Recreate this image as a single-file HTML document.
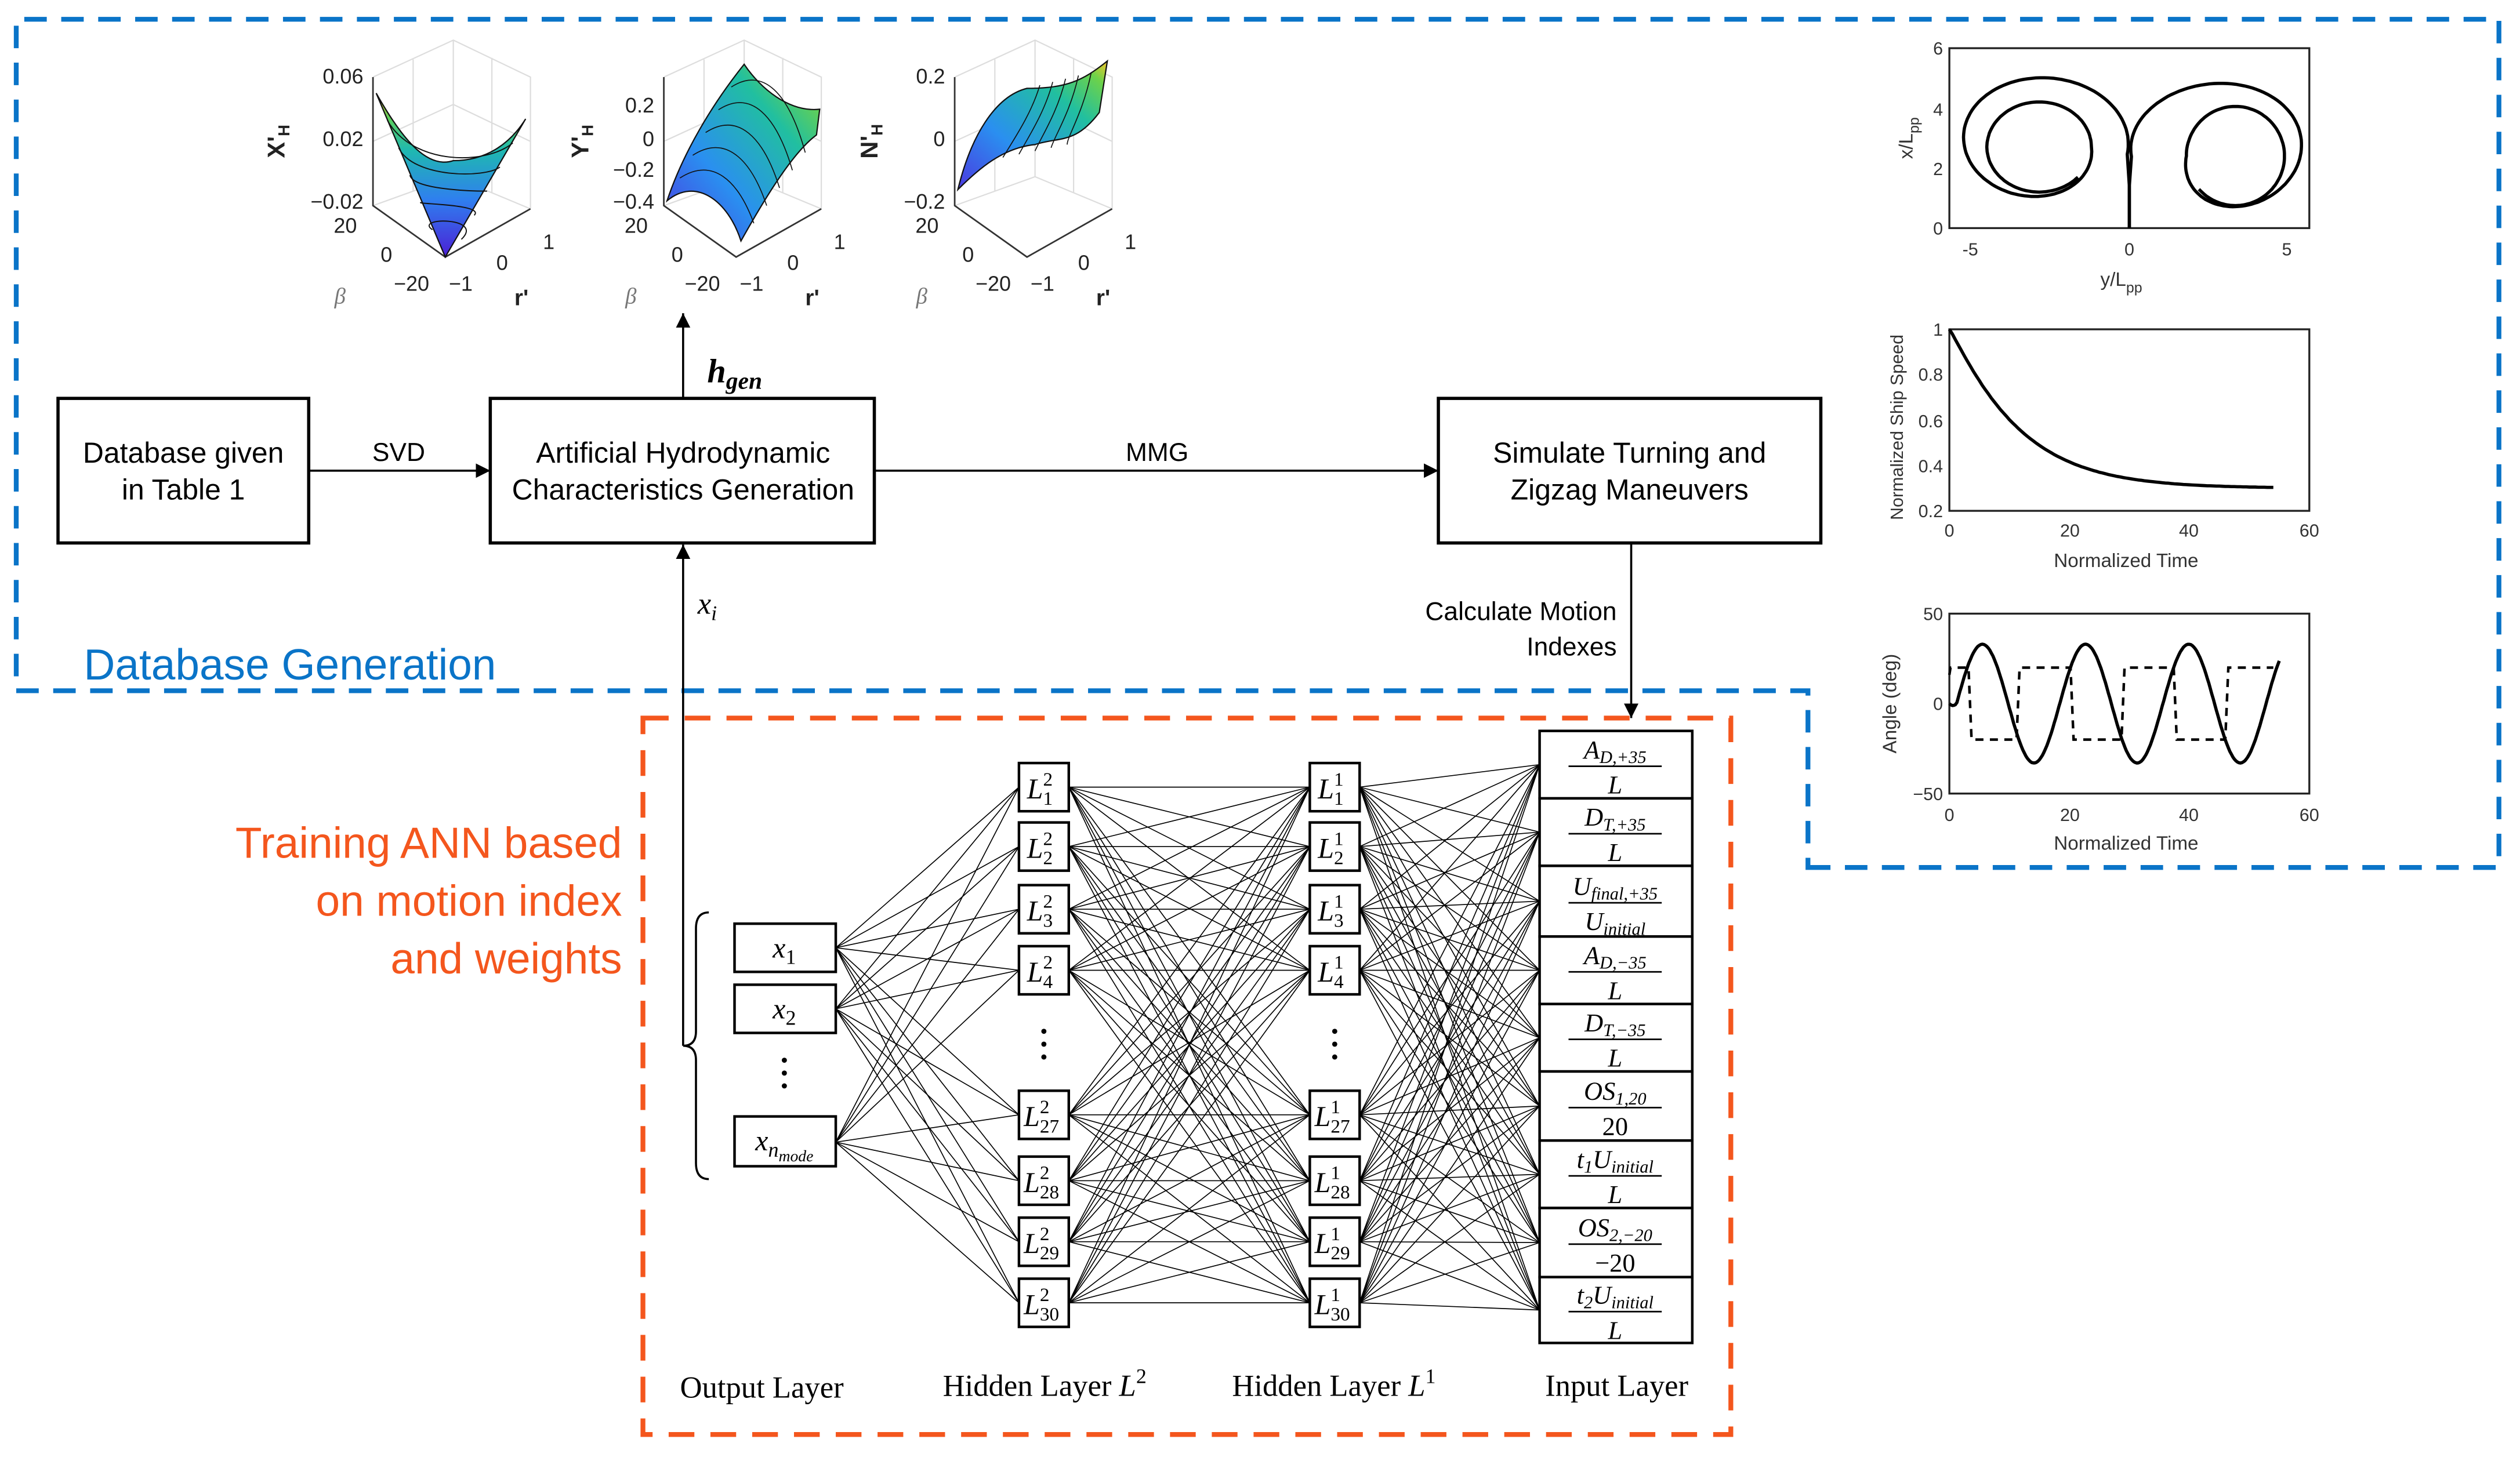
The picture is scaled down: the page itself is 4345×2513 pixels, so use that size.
<!DOCTYPE html>
<html><head><meta charset="utf-8">
<style>
html,body{margin:0;padding:0;background:#fff;}
svg{display:block;}
.c{font-family:"Liberation Sans Narrow","Liberation Sans",sans-serif;}
.s{font-family:"Liberation Serif",serif;}
.a{font-family:"Liberation Sans",sans-serif;}
</style></head>
<body>
<svg id="sv" xmlns="http://www.w3.org/2000/svg" width="4345" height="2513" viewBox="0 0 1568 907">
<defs>
<marker id="ar" viewBox="0 0 10 10" refX="10" refY="5" markerWidth="9" markerHeight="9" markerUnits="userSpaceOnUse" orient="auto"><path d="M0,0L10,5L0,10z" fill="#000"/></marker>
<linearGradient id="g1" x1="0" y1="1" x2="0" y2="0"><stop offset="0" stop-color="#4b1fd6"/><stop offset="0.35" stop-color="#2f7fef"/><stop offset="0.65" stop-color="#1fb8b0"/><stop offset="0.85" stop-color="#5ccf5a"/><stop offset="1" stop-color="#f5c32a"/></linearGradient>
<linearGradient id="g2" x1="0" y1="1" x2="1" y2="0"><stop offset="0" stop-color="#4b3ae0"/><stop offset="0.35" stop-color="#2a8ff0"/><stop offset="0.7" stop-color="#21bfa0"/><stop offset="0.9" stop-color="#6dd24a"/><stop offset="1" stop-color="#f7c52a"/></linearGradient>
</defs>
<path d="M1125,540 L1555,540 L1555,12 L10,12 L10,430 L1125,430 Z" fill="none" stroke="#0a74c8" stroke-width="3" stroke-dasharray="14,9"/>
<text x="52" y="423" class="c" font-size="27" fill="#0a74c8">Database Generation</text>
<rect x="400" y="447" width="677" height="446" fill="none" stroke="#f4561d" stroke-width="3" stroke-dasharray="16,10"/>
<g class="c" font-size="27" fill="#f4561d" text-anchor="end">
<text x="387" y="534">Training ANN based</text>
<text x="387" y="570">on motion index</text>
<text x="387" y="606">and weights</text>
</g>
<g fill="#fff" stroke="#000" stroke-width="2">
<rect x="36" y="248" width="156" height="90"/>
<rect x="305" y="248" width="239" height="90"/>
<rect x="895" y="248" width="238" height="90"/>
</g>
<g class="c" font-size="18" text-anchor="middle">
<text x="114" y="288">Database given</text><text x="114" y="311">in Table 1</text>
<text x="425" y="288">Artificial Hydrodynamic</text><text x="425" y="311">Characteristics Generation</text>
<text x="1014" y="288">Simulate Turning and</text><text x="1014" y="311">Zigzag Maneuvers</text>
<text x="248" y="287" font-size="16">SVD</text>
<text x="720" y="287" font-size="16">MMG</text>
</g>
<g class="c" font-size="16" text-anchor="end"><text x="1006" y="386">Calculate Motion</text><text x="1006" y="408">Indexes</text></g>
<g stroke="#000" stroke-width="1.3" fill="none">
<line x1="192" y1="293" x2="305" y2="293" marker-end="url(#ar)"/>
<line x1="544" y1="293" x2="895" y2="293" marker-end="url(#ar)"/>
<line x1="425" y1="248" x2="425" y2="195" marker-end="url(#ar)"/>
<line x1="425" y1="651" x2="425" y2="339" marker-end="url(#ar)"/>
<line x1="1015" y1="338" x2="1015" y2="447" marker-end="url(#ar)"/>
<path d="M441,568 Q433,568 433,578 L433,642 Q433,651 425,651 Q433,651 433,660 L433,724 Q433,734 441,734"/>
</g>
<text x="440" y="238" class="s" font-size="21" font-weight="bold" font-style="italic">h<tspan font-size="15" dy="4">gen</tspan></text>
<text x="434" y="382" class="s" font-size="19" font-style="italic">x<tspan font-size="13" dy="4">i</tspan></text>

<g id="p3d"></g>

<g class="a" font-size="11" fill="#333">
<rect x="1213" y="30" width="224" height="112" fill="none" stroke="#222" stroke-width="1.2"/>
<rect x="1213" y="205" width="224" height="113" fill="none" stroke="#222" stroke-width="1.2"/>
<rect x="1213" y="382" width="224" height="112" fill="none" stroke="#222" stroke-width="1.2"/>
<g text-anchor="end">
<text x="1209" y="34">6</text><text x="1209" y="72">4</text><text x="1209" y="109">2</text><text x="1209" y="146">0</text>
<text x="1209" y="209">1</text><text x="1209" y="237">0.8</text><text x="1209" y="266">0.6</text><text x="1209" y="294">0.4</text><text x="1209" y="322">0.2</text>
<text x="1209" y="386">50</text><text x="1209" y="442">0</text><text x="1209" y="498">−50</text>
</g>
<g text-anchor="middle">
<text x="1226" y="159">-5</text><text x="1325" y="159">0</text><text x="1423" y="159">5</text>
<text x="1213" y="334">0</text><text x="1288" y="334">20</text><text x="1362" y="334">40</text><text x="1437" y="334">60</text>
<text x="1213" y="511">0</text><text x="1288" y="511">20</text><text x="1362" y="511">40</text><text x="1437" y="511">60</text>
<text x="1320" y="178" font-size="12">y/L<tspan font-size="9" dy="4">pp</tspan></text>
<text x="1323" y="353" font-size="12">Normalized Time</text>
<text x="1323" y="529" font-size="12">Normalized Time</text>
</g>
<text transform="translate(1190,86) rotate(-90)" text-anchor="middle" font-size="12">x/L<tspan font-size="9" dy="4">pp</tspan></text>
<text transform="translate(1184,266) rotate(-90)" text-anchor="middle" font-size="11">Normalized Ship Speed</text>
<text transform="translate(1180,438) rotate(-90)" text-anchor="middle" font-size="12">Angle (deg)</text>
</g>
<g id="rp" fill="none" stroke="#000" stroke-width="2"></g>

<g id="net" stroke="#000" stroke-width="0.6"></g>
<g id="nodes"></g>
<g class="s" font-size="19" text-anchor="middle">
<text x="474" y="870">Output Layer</text>
<text x="650" y="869">Hidden Layer <tspan font-style="italic">L</tspan><tspan font-size="13" dy="-8">2</tspan></text>
<text x="830" y="869">Hidden Layer <tspan font-style="italic">L</tspan><tspan font-size="13" dy="-8">1</tspan></text>
<text x="1006" y="869">Input Layer</text>
</g>

<script>
var NS="http://www.w3.org/2000/svg";
function el(p,t,a,txt){var e=document.createElementNS(NS,t);for(var k in a)e.setAttribute(k,a[k]);if(txt!=null)e.textContent=txt;p.appendChild(e);return e;}
var net=document.getElementById('net'),nodes=document.getElementById('nodes');
var oy=[590,628,711];
var hy=[490,527,566,604,694,735,773,811];
var iTop=[455,497,539,583,625,667,710,752,795,836];
var iy=[];for(var i=0;i<9;i++)iy.push((iTop[i]+iTop[i+1])/2);
oy.forEach(function(a){hy.forEach(function(b){el(net,'line',{x1:520,y1:a,x2:634,y2:b});});});
hy.forEach(function(a){hy.forEach(function(b){el(net,'line',{x1:665,y1:a,x2:815,y2:b});});});
hy.forEach(function(a){iy.forEach(function(b){el(net,'line',{x1:846,y1:a,x2:958,y2:b});});});
var ol=[['1',575,30],['2',613,30],['n',695,31]];
ol.forEach(function(o){el(nodes,'rect',{x:457,y:o[1],width:63,height:o[2],fill:'#fff',stroke:'#000','stroke-width':1.6});
 var t=el(nodes,'text',{x:488,y:o[1]+21,'text-anchor':'middle','font-family':'Liberation Serif,serif','font-size':18,'font-style':'italic'},'x');
 if(o[0]=='n'){el(t,'tspan',{'font-size':13,dy:4},'n');el(t,'tspan',{'font-size':10,dy:3},'mode');}
 else el(t,'tspan',{'font-size':13,dy:4,'font-style':'normal'},o[0]);});
[660,668,676].forEach(function(y){el(nodes,'circle',{cx:488,cy:y,r:1.6,fill:'#000'});});
var subs=['1','2','3','4','27','28','29','30'];
[[634,'2'],[815,'1']].forEach(function(L){
 hy.forEach(function(y,i){el(nodes,'rect',{x:L[0],y:y-15,width:31,height:30,fill:'#fff',stroke:'#000','stroke-width':1.6});
  var cx=L[0]+(subs[i].length>1?8:10);
  el(nodes,'text',{x:cx,y:y+7,'font-family':'Liberation Serif,serif','font-size':18,'font-style':'italic','text-anchor':'middle'},'L');
  el(nodes,'text',{x:cx+5,y:y-1,'font-family':'Liberation Serif,serif','font-size':12},L[1]);
  el(nodes,'text',{x:cx+5,y:y+11,'font-family':'Liberation Serif,serif','font-size':12},subs[i]);});
 [642,650,658].forEach(function(y){el(nodes,'circle',{cx:L[0]+15.5,cy:y,r:1.6,fill:'#000'});});
});
var fr=[['A','D,+35','','L'],['D','T,+35','','L'],['U','final,+35','','U|initial'],['A','D,−35','','L'],['D','T,−35','','L'],['OS','1,20','','20'],['t','1','U|initial','L'],['OS','2,−20','','−20'],['t','2','U|initial','L']];
fr.forEach(function(f,i){var y0=iTop[i],h=iTop[i+1]-y0;
 el(nodes,'rect',{x:958,y:y0,width:95,height:h,fill:'#fff',stroke:'#000','stroke-width':1.6});
 var mid=y0+h/2+1;
 var t=el(nodes,'text',{x:1005,y:mid-5,'text-anchor':'middle','font-family':'Liberation Serif,serif','font-size':16,'font-style':'italic'},f[0]);
 el(t,'tspan',{'font-size':11,dy:3},f[1]);
 if(f[2]){var p=f[2].split('|');el(t,'tspan',{'font-size':16,dy:-3},p[0]);el(t,'tspan',{'font-size':11,dy:3},p[1]);}
 el(nodes,'line',{x1:976,y1:mid,x2:1034,y2:mid,stroke:'#000','stroke-width':1});
 var d=f[3].split('|');var t2=el(nodes,'text',{x:1005,y:mid+17,'text-anchor':'middle','font-family':'Liberation Serif,serif','font-size':16,'font-style':/^[−0-9]/.test(d[0])?'normal':'italic'},d[0]);
 if(d[1])el(t2,'tspan',{'font-size':11,dy:3},d[1]);
});
var rp=document.getElementById('rp');
function P(pts){return 'M'+pts.map(function(p){return p[0].toFixed(1)+','+p[1].toFixed(1);}).join('L');}
function X(x){return 1325+19.7*x} function Y(y){return 142-18.7*y}
function traj(sgn,c0,c1,rx0,rx1,ry0,ry1){var pts=[[X(0),Y(0)],[X(0),Y(1.4)]];
 for(var a=-12;a<=680;a+=3){var t=Math.min((a+12)/372,1);
  var rx=rx0+(rx1-rx0)*t,ry=ry0+(ry1-ry0)*t,cx=c0[0]+(c1[0]-c0[0])*t,cy=c0[1]+(c1[1]-c0[1])*t;
  var th=a*Math.PI/180;pts.push([X(cx+sgn*rx*Math.cos(th)),Y(cy+ry*Math.sin(th))]);}
 return P(pts);}
el(rp,'path',{d:traj(1,[-3.0,2.95],[-2.85,2.7],3.0,1.65,2.35,1.5)});
el(rp,'path',{d:traj(-1,[3.0,2.85],[3.35,2.4],3.0,1.55,2.25,1.65)});
var sp=[];for(var t=0;t<=54;t+=0.5){var v=0.3+0.7*Math.exp(-Math.pow(t,1.1)/15);sp.push([1213+3.733*t,318-(v-0.2)/0.8*113]);}
el(rp,'path',{d:P(sp)});
var zz=[];for(var t=0;t<=55;t+=0.25){var a=33*Math.sin(2*Math.PI*(t-1.2)/17.2);if(t<1.2)a=a*0.3*(t/1.2);zz.push([1213+3.733*t,438-1.12*a]);}
el(rp,'path',{d:P(zz)});
var sw=[[0,16],[0.2,20],[3.2,20],[3.7,-20],[11.2,-20],[11.7,20],[20.2,20],[20.7,-20],[28.7,-20],[29.2,20],[37.4,20],[37.9,-20],[46,-20],[46.5,20],[54,20]];
el(rp,'path',{d:P(sw.map(function(p){return [1213+3.733*p[0],438-1.12*p[1]];})),'stroke-dasharray':'5,4','stroke-width':1.6});
var g=document.getElementById('p3d');
function plot3(ox,kind,lab,ticks,lx){
 var gg=el(g,'g',{transform:'translate('+ox+',0)'});
 var gr={stroke:'#ddd','stroke-width':0.8,fill:'none'};
 el(gg,'path',Object.assign({d:'M0,48 L50,25 L98,48 L98,130 M50,25 L50,110 L0,128 M50,110 L98,130 M0,88 L50,65 L98,88 M25,37 L25,119 M74,36 L74,120'},gr));
 el(gg,'path',{d:'M0,48 L0,128 L45,160 L98,130',stroke:'#333','stroke-width':1,fill:'none'});
 if(kind==1){el(gg,'path',{d:'M2,58 C20,90 35,105 50,100 C70,100 85,90 95,74 L45,160 Z',fill:'url(#g1)',stroke:'#111','stroke-width':0.8});
  for(var k=1;k<6;k++){el(gg,'path',{d:'M'+(2+k*7)+','+(58+k*17)+' C25,'+(95+k*8)+' 70,'+(95+k*8)+' '+(95-k*8)+','+(74+k*15),stroke:'#111','stroke-width':0.7,fill:'none'});}
 }else if(kind==2){el(gg,'path',{d:'M2,125 C12,95 30,65 50,40 C60,55 78,70 97,68 L95,84 C80,95 62,125 48,150 C40,125 20,110 2,125 Z',fill:'url(#g2)',stroke:'#111','stroke-width':0.8});
  for(var k=1;k<6;k++){var f=k/6;el(gg,'path',{d:'M'+(2+48*f)+','+(125-85*f)+' C'+(22+48*f)+','+(112-85*f)+' '+(38+48*f)+','+(125-80*f)+' '+(48+48*f)+','+(150-66*f),stroke:'#111','stroke-width':0.6,fill:'none'});}
 }else{el(gg,'path',{d:'M2,118 C10,85 25,60 45,55 C70,55 80,50 95,38 L90,70 C75,90 65,85 50,90 C30,92 15,105 2,118 Z',fill:'url(#g2)',stroke:'#111','stroke-width':0.8});
  for(var k=1;k<6;k++){el(gg,'path',{d:'M'+(45+k*8)+','+(55-k*2)+' C'+(40+k*8)+','+(70)+' '+(30+k*8)+','+(85)+' '+(20+k*10)+','+(100-k*2),stroke:'#111','stroke-width':0.6,fill:'none'});}
 }
 var T={'font-family':'Liberation Sans,sans-serif','font-size':13,'text-anchor':'end',fill:'#222'};
 ticks.forEach(function(t){el(gg,'text',Object.assign({x:-6,y:t[1]+4},T),t[0]);});
 el(gg,'text',Object.assign({x:-10,y:145},T),'20');el(gg,'text',Object.assign({x:12,y:163},T),'0');el(gg,'text',Object.assign({x:35,y:181},T),'−20');
 el(gg,'text',Object.assign({x:62,y:181},T),'−1');el(gg,'text',Object.assign({x:84,y:168},T),'0');el(gg,'text',Object.assign({x:113,y:155},T),'1');
 el(gg,'text',{x:-24,y:189,'font-family':'Liberation Serif,serif','font-size':14,'font-style':'italic',fill:'#777'},'β');
 el(gg,'text',{x:88,y:190,'font-family':'Liberation Sans,sans-serif','font-size':14,'font-weight':'bold',fill:'#222'},"r'");
 var tt=el(gg,'text',{transform:'translate('+lx+',88) rotate(-90)','font-family':'Liberation Sans,sans-serif','font-size':15,'font-weight':'bold','text-anchor':'middle',fill:'#222'},lab);
 el(tt,'tspan',{'font-size':10,dy:3},'H');
}
plot3(232,1,"X'",[['0.06',48],['0.02',87],['−0.02',126]],-55);
plot3(413,2,"Y'",[['0.2',66],['0',87],['−0.2',106],['−0.4',126]],-47);
plot3(594,3,"N'",[['0.2',48],['0',87],['−0.2',126]],-48);
</script>
</svg>
</body></html>
